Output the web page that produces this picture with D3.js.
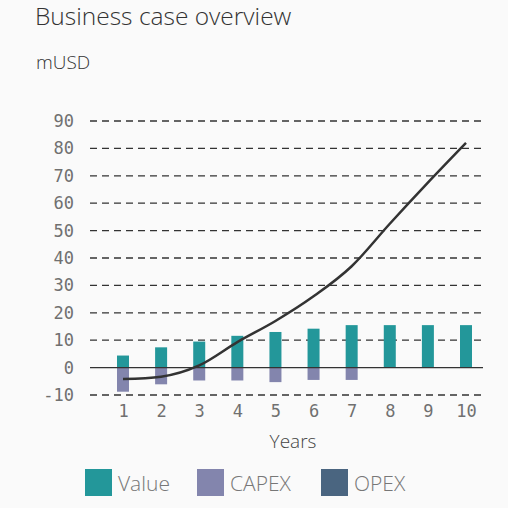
<!DOCTYPE html>
<html>
<head>
<meta charset="utf-8">
<script src="https://cdn.jsdelivr.net/npm/d3@7"></script>
<style>
  body { margin: 0; background: #fafafa; }
  svg { display: block; }
</style>
</head>
<body>
<div id="chart"></div>
<script>
// data
var years = [1, 2, 3, 4, 5, 6, 7, 8, 9, 10];
var value = [4.4, 7.4, 9.5, 11.6, 13.0, 14.2, 15.5, 15.5, 15.5, 15.5];
var capex = [-8.8, -6.1, -4.7, -4.7, -5.3, -4.5, -4.5, 0, 0, 0];
var opex = [0, 0, 0, 0, 0, 0, 0, 0, 0, 0];
var cumulative = [-4.2, -3.3, 0.8, 9.3, 17.0, 26.0, 37.0, 52.5, 67.5, 82.0];
var yTicks = [-10, 0, 10, 20, 30, 40, 50, 60, 70, 80, 90];
var legendNames = ["Value", "CAPEX", "OPEX"];
var legendColors = ["#23979a", "#8385ad", "#4a6580"];

var W = 508, H = 508;
var sans = "'Open Sans', sans-serif";
var mono = "'DejaVu Sans Mono', monospace";

var svg = d3.select("#chart").append("svg")
    .attr("width", W)
    .attr("height", H);

svg.append("rect").attr("width", W).attr("height", H).attr("fill", "#fafafa");

// title + unit
svg.append("text")
    .attr("x", 35).attr("y", 25)
    .attr("font-family", sans)
    .attr("font-weight", 300)
    .attr("font-size", 24.5)
    .attr("fill", "#333")
    .text("Business case overview");

svg.append("text")
    .attr("x", 36).attr("y", 69)
    .attr("font-family", sans)
    .attr("font-weight", 300)
    .attr("font-size", 19)
    .attr("fill", "#333")
    .text("mUSD");

// scales
var x = d3.scalePoint()
    .domain(years)
    .range([123, 466]);

var y = d3.scaleLinear()
    .domain([-10, 90])
    .range([395, 121]);

var gridLeft = 90, gridRight = 483;

// grid (dashed) lines
svg.append("g")
    .selectAll("line")
    .data(yTicks.filter(function(d) { return d != 0; }))
    .enter().append("line")
    .attr("x1", gridLeft).attr("x2", gridRight)
    .attr("y1", function(d) { return y(d); })
    .attr("y2", function(d) { return y(d); })
    .attr("stroke", "#333")
    .attr("stroke-width", 1.3)
    .attr("stroke-dasharray", "7,5");

// y axis labels
var yAxis = svg.append("g")
    .attr("transform", "translate(" + gridLeft + ",0)")
    .call(d3.axisLeft(y).tickValues(yTicks).tickSize(0).tickPadding(16)
        .tickFormat(function(d) { return String(d); }));
yAxis.select(".domain").remove();
yAxis.selectAll("text")
    .attr("font-family", mono)
    .attr("font-size", 17)
    .attr("fill", "#707070");

// x axis labels
var xAxis = svg.append("g")
    .attr("transform", "translate(0," + y(-10) + ")")
    .call(d3.axisBottom(x).tickSize(0).tickPadding(10));
xAxis.select(".domain").remove();
xAxis.selectAll("text")
    .attr("font-family", mono)
    .attr("font-size", 17)
    .attr("fill", "#707070");

svg.append("text")
    .attr("x", 293).attr("y", 448)
    .attr("text-anchor", "middle")
    .attr("font-family", sans)
    .attr("font-weight", 300)
    .attr("font-size", 19)
    .attr("fill", "#444")
    .text("Years");

// bars
var bw = 12;
svg.append("g").selectAll("rect")
    .data(years)
    .enter().append("rect")
    .attr("x", function(d) { return x(d) - bw / 2; })
    .attr("width", bw)
    .attr("y", function(d, i) { return y(value[i]); })
    .attr("height", function(d, i) { return y(0) - y(value[i]); })
    .attr("fill", legendColors[0]);

svg.append("g").selectAll("rect")
    .data(years)
    .enter().append("rect")
    .attr("x", function(d) { return x(d) - bw / 2; })
    .attr("width", bw)
    .attr("y", y(0))
    .attr("height", function(d, i) { return y(capex[i]) - y(0); })
    .attr("fill", legendColors[1]);

svg.append("g").selectAll("rect")
    .data(years)
    .enter().append("rect")
    .attr("x", function(d) { return x(d) - bw / 2; })
    .attr("width", bw)
    .attr("y", function(d, i) { return y(capex[i]); })
    .attr("height", function(d, i) { return y(capex[i] + opex[i]) - y(capex[i]); })
    .attr("fill", legendColors[2]);

// zero line
svg.append("line")
    .attr("x1", gridLeft).attr("x2", gridRight)
    .attr("y1", y(0)).attr("y2", y(0))
    .attr("stroke", "#333")
    .attr("stroke-width", 1.3);

// cumulative line
svg.append("path")
    .datum(years)
    .attr("fill", "none")
    .attr("stroke", "#333")
    .attr("stroke-width", 2.5)
    .attr("d", d3.line()
        .curve(d3.curveMonotoneX)
        .x(function(d) { return x(d); })
        .y(function(d, i) { return y(cumulative[i]); }));

// legend
var legendX = [85, 197, 321];
var lg = svg.append("g").selectAll("g")
    .data(legendNames)
    .enter().append("g")
    .attr("transform", function(d, i) { return "translate(" + legendX[i] + ",469)"; });
lg.append("rect")
    .attr("width", 27).attr("height", 27)
    .attr("fill", function(d, i) { return legendColors[i]; });
lg.append("text")
    .attr("x", 33).attr("y", 22)
    .attr("font-family", sans)
    .attr("font-weight", 300)
    .attr("font-size", 21)
    .attr("fill", "#777")
    .text(function(d) { return d; });
</script>
</body>
</html>
